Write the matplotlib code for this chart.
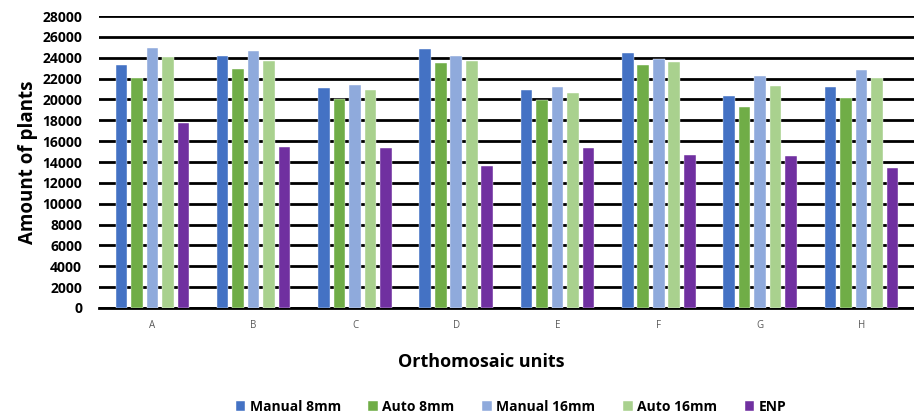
import matplotlib
matplotlib.use("Agg")
import matplotlib.pyplot as plt
import numpy as np

plt.rcParams['font.family'] = ['Open Sans', 'DejaVu Sans']

units = ["A", "B", "C", "D", "E", "F", "G", "H"]
series = ["Manual 8mm", "Auto 8mm", "Manual 16mm", "Auto 16mm", "ENP"]
manual_8mm = [23300, 24200, 21100, 24800, 20900, 24500, 20300, 21200]
auto_8mm = [22100, 22900, 20000, 23500, 19900, 23300, 19300, 20100]
manual_16mm = [24900, 24600, 21400, 24200, 21200, 23900, 22200, 22800]
auto_16mm = [24100, 23700, 20900, 23700, 20600, 23600, 21300, 22100]
enp = [17700, 15400, 15300, 13600, 15300, 14700, 14600, 13400]
yticks = list(range(0, 28001, 2000))

colors = ["#4472C4", "#70AD47", "#8FAADC", "#A9D18E", "#7030A0"]
values = [manual_8mm, auto_8mm, manual_16mm, auto_16mm, enp]

fig = plt.figure(figsize=(9.14, 4.17), dpi=100)
ax = fig.add_axes([0.108, 0.2614, 0.892, 0.7002])

x = np.arange(len(units))
pitch = 0.153
width = 0.115
for k, (name, vals) in enumerate(zip(series, values)):
    ax.bar(x + (k - 2) * pitch, vals, width, color=colors[k], label=name,
           zorder=3, edgecolor="white", linewidth=0.3)

ax.set_xlim(-0.53, 7.52)
ax.set_ylim(0, 28000)
ax.set_yticks(yticks)
ax.set_yticklabels([str(v) for v in yticks], fontsize=10, fontweight="bold")
ax.set_xticks(x)
ax.set_xticklabels(units, fontsize=7, color="#595959")
ax.tick_params(axis="y", length=0, pad=12)
ax.tick_params(axis="x", length=0, pad=9)
ax.grid(axis="y", color="black", linewidth=2, zorder=0)
for s in ["top", "right", "left"]:
    ax.spines[s].set_visible(False)
ax.spines["bottom"].set_color("black")
ax.spines["bottom"].set_linewidth(2)

ax.set_ylabel("Amount of plants", fontsize=13.5, fontweight="bold", labelpad=3)
fig.text(0.527, 0.132, "Orthomosaic units", fontsize=13, fontweight="bold",
         ha="center", va="center")

fig.legend(loc="center", bbox_to_anchor=(0.559, 0.024), ncol=5, frameon=False,
           prop={"weight": "bold", "size": 10}, handlelength=0.7,
           handleheight=0.7, handletextpad=0.3, columnspacing=2.0)

fig.savefig("out.png", dpi=100)
